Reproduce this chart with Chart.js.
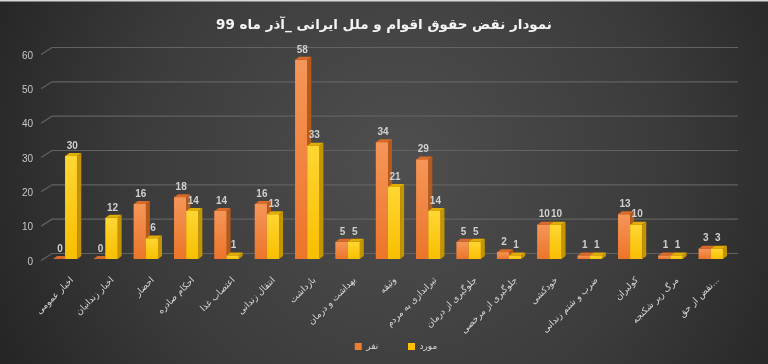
<!DOCTYPE html>
<html>
<head>
<meta charset="utf-8">
<script src="https://cdn.jsdelivr.net/npm/chart.js@4"></script>
<style>
  html, body { margin: 0; padding: 0; background: #333; }
  #wrap { width: 768px; height: 364px; position: relative; }
</style>
</head>
<body>
<div id="wrap"><canvas id="c"></canvas></div>
<script>
const categories = [
  "اخبار عمومی", "اخبار زندانیان", "احضار", "احکام صادره", "اعتصاب غذا",
  "انتقال زندانی", "بازداشت", "بهداشت و درمان", "وثیقه", "تیراندازی به مردم",
  "جلوگیری از درمان", "جلوگیری از مرخصی", "خودکشی", "ضرب و شتم زندانی",
  "کولبران", "مرگ زیر شکنجه", "نقض از حق..."
];
const seriesNames = ["نفر", "مورد"];
const nafarValues = [0, 0, 16, 18, 14, 16, 58, 5, 34, 29, 5, 2, 10, 1, 13, 1, 3];
const moredValues = [30, 12, 6, 14, 1, 13, 33, 5, 21, 14, 5, 1, 10, 1, 10, 1, 3];
const yMin = 0, yMax = 60, yStep = 10;
const titleText = "نمودار نقض حقوق اقوام و ملل ایرانی _آذر ماه 99";

const faceStyles = [
  { top: '#f59659', bottom: '#ec7529', side: '#b65a1c', cap: '#d96a28' },
  { top: '#ffd633', bottom: '#f8bf00', side: '#c49500', cap: '#e3ac00' }
];
const DX = 4, DY = 3;
const legendTrail = [9, 0];
const legendLead = 3;

const bgPlugin = {
  id: 'bg',
  beforeDraw(chart) {
    const { ctx, width, height } = chart;
    ctx.save();
    const g = ctx.createRadialGradient(width * 0.52, height * 0.45, 10, width * 0.52, height * 0.45, width * 0.62);
    g.addColorStop(0, '#4e4e4e');
    g.addColorStop(0.55, '#3b3b3b');
    g.addColorStop(1, '#212121');
    ctx.fillStyle = g;
    ctx.fillRect(0, 0, width, height);
    ctx.fillStyle = '#d8d8d8';
    ctx.fillRect(0, 0, width, 1.5);
    ctx.restore();
  }
};

const gridPlugin = {
  id: 'grid3d',
  beforeDatasetsDraw(chart) {
    const { ctx } = chart;
    const ys = chart.scales.y;
    ctx.save();
    ctx.strokeStyle = '#626262';
    ctx.lineWidth = 1.2;
    for (let v = yMin; v <= yMax; v += yStep) {
      const py = ys.getPixelForValue(v);
      ctx.beginPath();
      ctx.moveTo(41, py + 1.5);
      ctx.lineTo(52, py - 5.5);
      ctx.lineTo(738, py - 5.5);
      ctx.stroke();
    }
    ctx.restore();
  }
};

const bars3dPlugin = {
  id: 'bars3d',
  afterDatasetsDraw(chart) {
    const { ctx } = chart;
    const metas = chart.data.datasets.map((d, i) => chart.getDatasetMeta(i));
    ctx.save();
    for (let j = 0; j < categories.length; j++) {
      metas.forEach((meta, di) => {
        const el = meta.data[j];
        const p = el.getProps(['x', 'y', 'base', 'width'], true);
        const l = p.x - p.width / 2, r = p.x + p.width / 2;
        const top = Math.min(p.y, p.base), base = p.base;
        const st = faceStyles[di];
        if (base - top > 0.1) {
          const g = ctx.createLinearGradient(0, top, 0, base);
          g.addColorStop(0, st.top);
          g.addColorStop(1, st.bottom);
          ctx.fillStyle = g;
          ctx.fillRect(l, top, p.width, base - top);
        }
        ctx.fillStyle = st.side;
        ctx.beginPath();
        ctx.moveTo(r, top);
        ctx.lineTo(r + DX, top - DY);
        ctx.lineTo(r + DX, base - DY);
        ctx.lineTo(r, base);
        ctx.closePath();
        ctx.fill();
        ctx.fillStyle = st.cap;
        ctx.beginPath();
        ctx.moveTo(l, top);
        ctx.lineTo(l + DX, top - DY);
        ctx.lineTo(r + DX, top - DY);
        ctx.lineTo(r, top);
        ctx.closePath();
        ctx.fill();
      });
    }
    ctx.fillStyle = '#d0d0d0';
    ctx.font = 'bold 10px "Liberation Sans", Arial, sans-serif';
    ctx.textAlign = 'center';
    ctx.textBaseline = 'middle';
    metas.forEach((meta, di) => {
      const vals = chart.data.datasets[di].data;
      meta.data.forEach((el, j) => {
        const p = el.getProps(['x', 'y'], true);
        ctx.fillText(String(vals[j]), p.x + 1, p.y - 10);
      });
    });
    ctx.restore();
  }
};

new Chart(document.getElementById('c'), {
  type: 'bar',
  data: {
    labels: categories,
    datasets: [
      { label: seriesNames[0], data: nafarValues, backgroundColor: '#ED7D31', borderWidth: 0 },
      { label: seriesNames[1], data: moredValues, backgroundColor: '#FFC000', borderWidth: 0 }
    ]
  },
  options: {
    responsive: true,
    maintainAspectRatio: false,
    animation: false,
    layout: { padding: { left: 0, right: 0, top: 0, bottom: 3 } },
    datasets: { bar: { categoryPercentage: 0.6, barPercentage: 1.0 } },
    plugins: {
      title: {
        display: true,
        text: titleText,
        color: '#f4f4f4',
        font: { family: '"DejaVu Sans", sans-serif', size: 13.5, weight: 'bold', lineHeight: 1.2 },
        padding: { top: 17, bottom: 19.8 }
      },
      legend: {
        display: true,
        position: 'bottom',
        labels: {
          color: '#d9d9d9',
          boxWidth: 7,
          boxHeight: 7,
          padding: 4,
          font: { family: '"DejaVu Sans", sans-serif', size: 9 },
          generateLabels(chart) {
            const items = Chart.defaults.plugins.legend.labels.generateLabels(chart);
            items.forEach((it, i) => { it.text = it.text + '\u00A0'.repeat(legendTrail[i] || 0); });
            const spacer = {
              text: '\u00A0'.repeat(legendLead), fillStyle: 'rgba(0,0,0,0)', strokeStyle: 'rgba(0,0,0,0)',
              lineWidth: 0, hidden: false, datasetIndex: -1, fontColor: 'rgba(0,0,0,0)'
            };
            return [spacer].concat(items);
          }
        }
      },
      tooltip: { enabled: false }
    },
    scales: {
      x: {
        grid: { display: false },
        border: { display: false },
        ticks: {
          color: '#d9d9d9',
          autoSkip: false,
          minRotation: 45,
          maxRotation: 45,
          padding: 8,
          labelOffset: 7,
          font: { family: '"DejaVu Sans", sans-serif', size: 9 }
        },
        afterFit(scale) {
          scale.height = 79;
        }
      },
      y: {
        min: yMin,
        max: yMax,
        grid: { display: false },
        border: { display: false },
        ticks: {
          stepSize: yStep,
          color: '#c8c8c8',
          padding: 4,
          labelOffset: 3,
          font: { family: '"Liberation Sans", Arial, sans-serif', size: 10 }
        },
        afterFit(scale) { scale.width = 45; }
      },
      yRight: {
        position: 'right',
        display: true,
        min: yMin,
        max: yMax,
        grid: { display: false },
        border: { display: false },
        ticks: { display: false },
        afterFit(scale) { scale.width = 37; }
      }
    }
  },
  plugins: [bgPlugin, gridPlugin, bars3dPlugin]
});
</script>
</body>
</html>
